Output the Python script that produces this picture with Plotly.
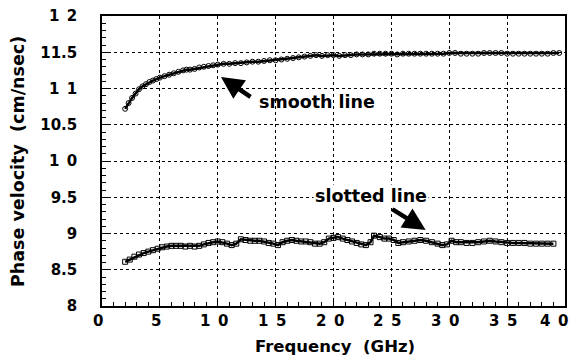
import plotly.graph_objects as go

# ---- data ----
smooth_f = [2.0, 2.3, 2.6, 2.9, 3.2, 3.5, 3.8, 4.1, 4.4, 4.7, 5.0, 5.4, 5.8, 6.2, 6.6, 7.0, 7.3,
            7.6, 8.0, 8.4, 8.8, 9.2, 9.6, 10.0, 10.5, 11.0, 11.5, 12.0, 12.5, 13.0, 13.5, 14.0,
            14.5, 15.0, 15.5, 16.0, 16.5, 17.0, 17.5, 18.0, 18.5, 19.0, 19.5, 20.0, 20.5, 21.0,
            21.5, 22.0, 22.5, 23.0, 23.5, 24.0, 24.5, 25.0, 25.5, 26.0, 26.5, 27.0, 27.5, 28.0,
            28.5, 29.0, 29.5, 30.0, 30.5, 31.0, 31.5, 32.0, 32.5, 33.0, 33.5, 34.0, 34.5, 35.0,
            35.5, 36.0, 36.5, 37.0, 37.5, 38.0, 38.5, 39.0, 39.5]
smooth_v = [10.72, 10.80, 10.87, 10.93, 10.99, 11.03, 11.06, 11.09, 11.11, 11.13, 11.15, 11.17,
            11.19, 11.21, 11.23, 11.25, 11.26, 11.26, 11.27, 11.29, 11.30, 11.31, 11.32, 11.33,
            11.34, 11.34, 11.35, 11.35, 11.36, 11.37, 11.37, 11.38, 11.39, 11.39, 11.40, 11.41,
            11.42, 11.43, 11.44, 11.45, 11.46, 11.45, 11.46, 11.46, 11.45, 11.46, 11.46, 11.47,
            11.47, 11.47, 11.48, 11.48, 11.48, 11.48, 11.47, 11.48, 11.48, 11.48, 11.48, 11.48,
            11.48, 11.48, 11.48, 11.49, 11.49, 11.48, 11.48, 11.48, 11.48, 11.49, 11.49, 11.49,
            11.49, 11.48, 11.48, 11.48, 11.48, 11.48, 11.48, 11.48, 11.48, 11.49, 11.49]

slot_f = [2.0, 2.4, 2.8, 3.2, 3.6, 4.0, 4.4, 4.8, 5.2, 5.6, 6.0, 6.4, 6.8, 7.2, 7.6, 8.0, 8.4,
          8.8, 9.2, 9.6, 10.0, 10.4, 10.8, 11.2, 11.6, 12.0, 12.4, 12.8, 13.2, 13.6, 14.0, 14.4,
          14.8, 15.2, 15.6, 16.0, 16.4, 16.8, 17.2, 17.6, 18.0, 18.4, 18.8, 19.2, 19.6, 20.0,
          20.4, 20.8, 21.2, 21.6, 22.0, 22.4, 22.8, 23.2, 23.5, 24.0, 24.4, 24.8, 25.2, 25.6,
          26.0, 26.5, 27.0, 27.5, 28.0, 28.5, 29.0, 29.4, 29.8, 30.2, 30.6, 31.0, 31.5, 32.0,
          32.5, 33.0, 33.5, 34.0, 34.5, 35.0, 35.5, 36.0, 36.5, 37.0, 37.5, 38.0, 38.5, 39.0]
slot_v = [8.61, 8.64, 8.68, 8.71, 8.73, 8.75, 8.77, 8.79, 8.81, 8.82, 8.83, 8.83, 8.83, 8.82,
          8.83, 8.82, 8.83, 8.85, 8.87, 8.88, 8.89, 8.88, 8.86, 8.84, 8.86, 8.92, 8.91, 8.90,
          8.90, 8.90, 8.89, 8.87, 8.86, 8.84, 8.88, 8.90, 8.91, 8.90, 8.89, 8.89, 8.88, 8.86,
          8.86, 8.88, 8.93, 8.94, 8.95, 8.93, 8.91, 8.89, 8.87, 8.85, 8.84, 8.88, 8.97, 8.95,
          8.93, 8.93, 8.91, 8.87, 8.88, 8.89, 8.90, 8.91, 8.90, 8.88, 8.86, 8.84, 8.85, 8.90,
          8.88, 8.88, 8.87, 8.87, 8.88, 8.89, 8.90, 8.89, 8.88, 8.87, 8.87, 8.87, 8.87, 8.86,
          8.86, 8.86, 8.86, 8.86]

x_ticks = [0, 5, 10, 15, 20, 25, 30, 35, 40]
x_ticktext = ["0", "5", "1\u20020", "1\u20025", "2\u20020", "2\u20025", "3\u20020", "3\u20025", "4\u20020"]
y_ticks = [8, 8.5, 9, 9.5, 10, 10.5, 11, 11.5, 12]
y_ticktext = ["8", "8.5", "9", "9.5", "1\u20020", "10.5", "1\u20021", "11.5", "1\u20022"]

FONT = "DejaVu Sans"
TICKFONT = dict(family=FONT, size=15, color="black", weight="bold")

fig = go.Figure()
fig.add_trace(go.Scatter(
    x=smooth_f, y=smooth_v, mode="lines+markers",
    line=dict(color="black", width=2.5),
    marker=dict(symbol="circle-open", size=5, color="black", line=dict(width=1)),
    showlegend=False))
fig.add_trace(go.Scatter(
    x=slot_f, y=slot_v, mode="lines+markers",
    line=dict(color="black", width=2.5),
    marker=dict(symbol="square-open", size=5, color="black", line=dict(width=1)),
    showlegend=False))

axis_common = dict(
    showline=True, linecolor="black", linewidth=1.5, mirror=True,
    showgrid=True, gridcolor="black", gridwidth=1, griddash="dot",
    zeroline=False, ticks="inside", ticklen=6, tickcolor="black", tickwidth=1,
    tickfont=TICKFONT, automargin=False,
)

fig.update_xaxes(
    range=[0, 40], tickmode="array", tickvals=x_ticks, showticklabels=False,
    minor=dict(dtick=1, ticks="inside", ticklen=4, tickcolor="black", showgrid=False),
    **axis_common)
fig.update_yaxes(
    range=[8, 12], tickmode="array", tickvals=y_ticks, ticktext=y_ticktext,
    minor=dict(dtick=0.1, ticks="inside", ticklen=4, tickcolor="black", showgrid=False),
    ticklabelstandoff=20, ticklabeloverflow="allow",
    **axis_common)

# x tick labels (placed at the tick values; the last one is kept inside the page)
for i, (v, t) in enumerate(zip(x_ticks, x_ticktext)):
    last = i == len(x_ticks) - 1
    fig.add_annotation(x=v, y=0, xref="x", yref="paper", text=t, showarrow=False,
                       xanchor="right" if last else "center", yanchor="top",
                       xshift=5 if last else -4, yshift=-4, font=TICKFONT)

# axis titles
fig.add_annotation(x=0.503, y=-0.141, xref="paper", yref="paper", text="Frequency\u00a0\u00a0(GHz)",
                   showarrow=False, xanchor="center", yanchor="middle",
                   font=dict(family=FONT, size=16.5, color="black", weight="bold"))
fig.add_annotation(x=-0.181, y=0.497, xref="paper", yref="paper", text="Phase velocity\u00a0\u00a0(cm/nsec)",
                   showarrow=False, xanchor="center", yanchor="middle", textangle=-90,
                   font=dict(family=FONT, size=17.5, color="black", weight="bold"))

# annotations
fig.add_annotation(x=10.28, y=11.16, ax=12.96, ay=10.87, xref="x", yref="y", axref="x", ayref="y",
                   text="", showarrow=True, arrowhead=2, arrowsize=1.0, arrowwidth=4.5, arrowcolor="black")
fig.add_annotation(x=18.6, y=10.81, xref="x", yref="y", text="smooth line", showarrow=False,
                   font=dict(family=FONT, size=17.5, color="black", weight="bold"))
fig.add_annotation(x=27.96, y=9.05, ax=24.94, ay=9.35, xref="x", yref="y", axref="x", ayref="y",
                   text="", showarrow=True, arrowhead=2, arrowsize=1.0, arrowwidth=4.5, arrowcolor="black")
fig.add_annotation(x=23.2, y=9.52, xref="x", yref="y", text="slotted line", showarrow=False,
                   bgcolor="white", font=dict(family=FONT, size=17.5, color="black", weight="bold"))

# the page body adds an 8px margin all round, so the figure is sized to fit inside it
fig.update_layout(
    width=563, height=348,
    margin=dict(l=94, r=6, t=8, b=50, autoexpand=False),
    paper_bgcolor="white", plot_bgcolor="white",
    font=dict(family=FONT, color="black"),
)

fig.write_html("out.html")
